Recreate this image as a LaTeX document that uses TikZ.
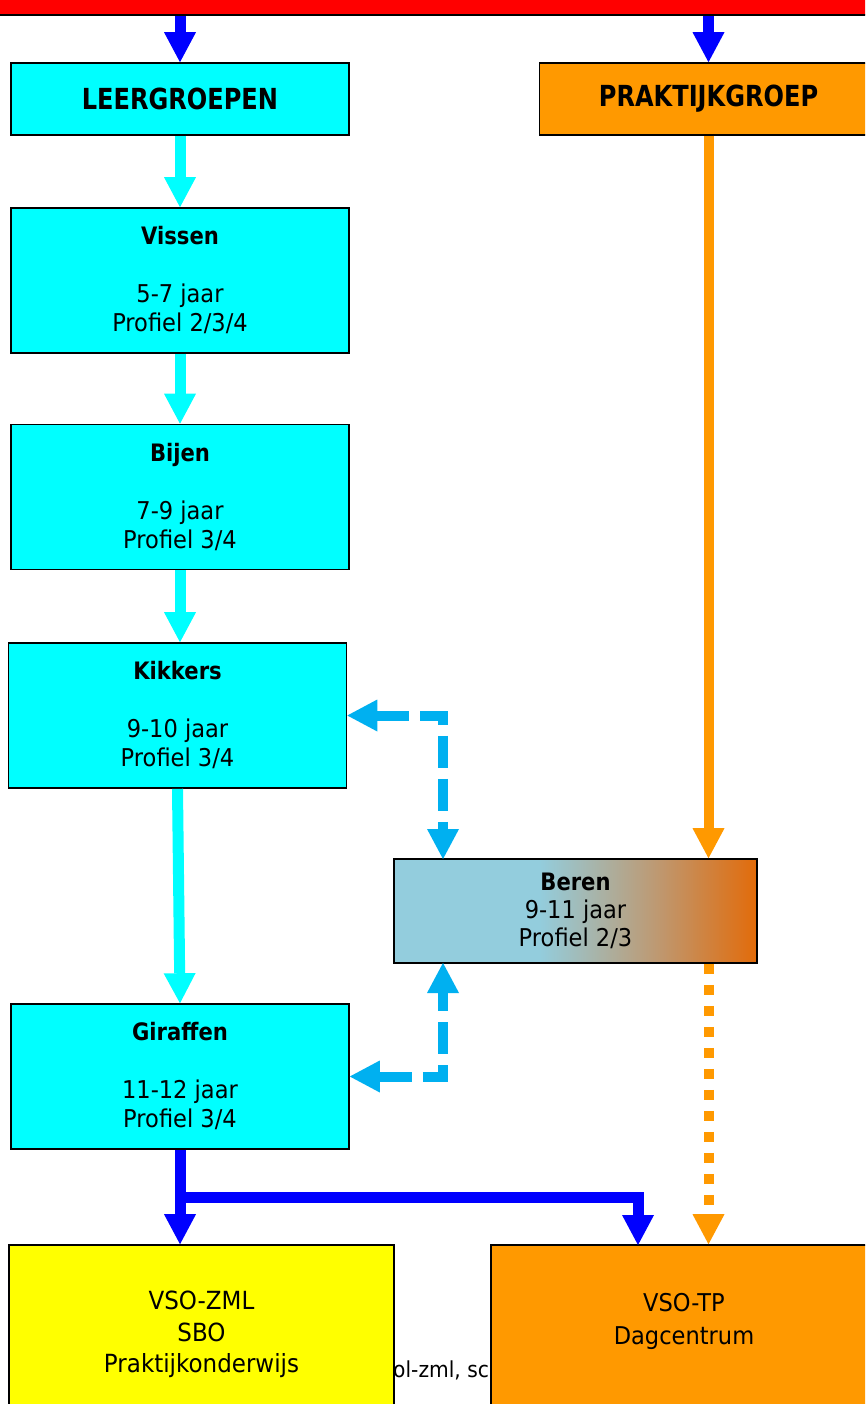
\documentclass[tikz,border=0pt]{standalone}
\usepackage{fontspec}
\setmainfont{DejaVu Sans}[FakeStretch=0.92]
\newfontfamily\kopfont[FakeStretch=0.83]{DejaVu Sans}
\newfontfamily\naamfont[FakeStretch=0.88]{DejaVu Sans}
\usetikzlibrary{arrows.meta}

\definecolor{aqua}{HTML}{00FFFF}
\definecolor{oranje}{HTML}{FF9900}
\definecolor{geel}{HTML}{FFFF00}
\definecolor{blauw}{HTML}{0000FF}
\definecolor{lichtblauw}{HTML}{00B0F0}
\definecolor{rood}{HTML}{FF0000}
\definecolor{berblauw}{HTML}{93CDDD}
\definecolor{bertan}{HTML}{C0966C}
\definecolor{beroranje}{HTML}{E26B0A}
\pgfdeclarehorizontalshading{beren}{100bp}{color(0bp)=(berblauw); color(25bp)=(berblauw); color(45bp)=(berblauw); color(62bp)=(bertan); color(75bp)=(beroranje); color(100bp)=(beroranje)}

\newcommand{\naam}[1]{{\naamfont\fontsize{24}{29}\selectfont\bfseries #1}}

\tikzset{
	box/.style={draw=black, line width=1.6pt, inner sep=0pt, align=center, font=\fontsize{24.5}{29}\selectfont},
	groep/.style={box, fill=aqua, minimum width=338pt, minimum height=145pt},
	kop/.style={box, minimum width=338pt, minimum height=72pt, font=\kopfont\fontsize{29}{32}\selectfont\bfseries},
	pijl/.style={line width=11pt, -{Triangle[width=32pt,length=30pt,line width=0pt]}},
	wissel/.style={line width=10pt, lichtblauw, dash pattern=on 32pt off 11pt, {Triangle[width=32pt,length=30pt,line width=0pt]}-{Triangle[width=32pt,length=30pt,line width=0pt]}},
}

\begin{document}
\begin{tikzpicture}[x=1pt, y=-1pt]
	\clip (0,0) rectangle (865,1404);
	\fill[white] (0,0) rectangle (865,1404);
	% balk bovenaan
	\node[fill=rood, draw=black, line width=1.6pt, minimum width=900pt, minimum height=30pt, inner sep=0pt] (balk) at (432.5,0) {};
	% koppen
	\node[kop, fill=aqua] (leer) at (180,99) {LEERGROEPEN};
	\node[kop, fill=oranje] (prak) at (708.5,99) {PRAKTIJKGROEP};
	% leergroepen
	\node[groep] (vis) at (180,280.5) {\naam{Vissen}\\[29pt]5-7 jaar\\Profiel 2/3/4};
	\node[groep] (bij) at (180,497) {\naam{Bijen}\\[29pt]7-9 jaar\\Profiel 3/4};
	\node[groep] (kik) at (177.5,715.5) {\naam{Kikkers}\\[29pt]9-10 jaar\\Profiel 3/4};
	\node[groep] (gir) at (180,1076.5) {\naam{Giraffen}\\[29pt]11-12 jaar\\Profiel 3/4};
	\node[box, shading=beren, minimum width=363pt, minimum height=104pt, font=\fontsize{24.5}{28}\selectfont] (ber) at (575.5,911) {\naam{Beren}\\9-11 jaar\\Profiel 2/3};
	% vervolg
	\node[anchor=base west, font=\fontsize{22}{29}\selectfont, inner sep=0pt] (url) at (393,1377) {ol-zml, sc};
	\node[box, fill=geel, minimum width=385pt, minimum height=179pt, font=\fontsize{25}{31.5}\selectfont] (zml) at (201.5,1334.5) {VSO-ZML\\SBO\\Praktijkonderwijs};
	\node[box, fill=oranje, minimum width=386pt, minimum height=180pt, font=\fontsize{24.5}{33}\selectfont] (tp) at (684,1335) {VSO-TP\\Dagcentrum\\~};

	% pijlen
	\draw[pijl, blauw] (balk.south -| leer.north) -- (leer.north);
	\draw[pijl, blauw] (balk.south -| prak.north) -- (prak.north);
	\draw[pijl, aqua] (leer) -- (vis);
	\draw[pijl, aqua] (vis) -- (bij);
	\draw[pijl, aqua] (bij.south) -- (bij.south |- kik.north);
	\draw[pijl, aqua] (kik.south) -- (gir.north);
	\draw[pijl, oranje, line width=10pt] (prak.south) -- (prak.south |- ber.north);
	\draw[pijl, oranje, line width=10pt, dash pattern=on 10pt off 11pt] (prak.south |- ber.south) -- (prak.south |- tp.north);
	\coordinate (bertop) at (443,859);
	\coordinate (berbot) at (443,963);
	\draw[wissel] (kik.east) -| (bertop);
	\draw[wissel] (gir.east) -| (berbot);
	\draw[pijl, blauw] (gir.south) -- (gir.south |- zml.north);
	\coordinate (splits) at (180,1197.5);
	\coordinate (tpin) at (638,1245);
	\draw[pijl, blauw] (splits) -| (tpin);
\end{tikzpicture}
\end{document}
